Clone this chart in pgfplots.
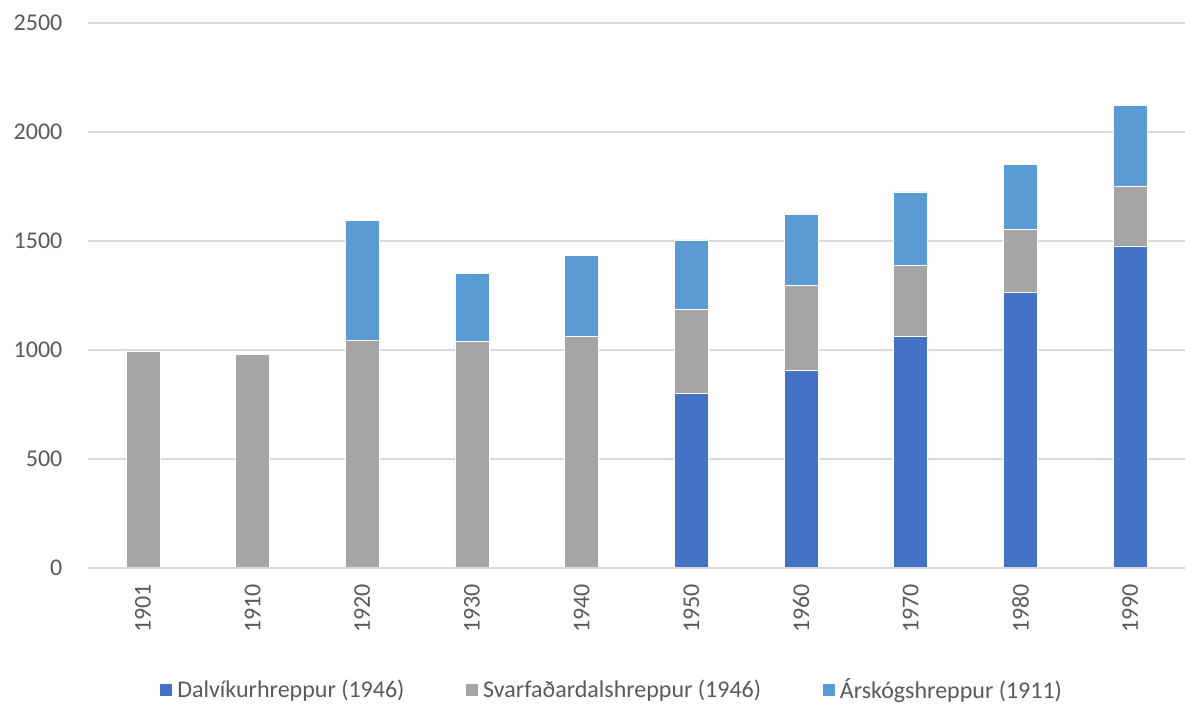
\documentclass[border=0pt]{standalone}
\usepackage{pgfplots}
\pgfplotsset{compat=1.18}
\usepackage{fontspec}
\setmainfont{Carlito}
\definecolor{dalvik}{HTML}{4472C4}
\definecolor{svarf}{HTML}{A5A5A5}
\definecolor{arskog}{HTML}{5B9BD5}
\definecolor{txt}{HTML}{595959}
\definecolor{gridc}{HTML}{D9D9D9}

\begin{document}
\begin{tikzpicture}
\useasboundingbox (0pt,0pt) rectangle (888.75pt,528pt);
\begin{axis}[
    at={(66pt,102pt)}, anchor=south west,
    scale only axis,
    width=822.75pt, height=408.75pt,
    ybar stacked,
    bar width=25.5pt,
    xmin=-0.5, xmax=9.5,
    ymin=0, ymax=2500,
    ytick={0,500,...,2500},
    xtick=data,
    xticklabels={1901,1910,1920,1930,1940,1950,1960,1970,1980,1990},
    major tick length=0pt,
    axis line style={draw=none},
    axis x line*=bottom,
    axis y line*=left,
    ymajorgrids=true,
    grid style={gridc, line width=1pt},
    font=\fontsize{18}{21}\selectfont,
    tick label style={txt},
    /pgf/number format/assume math mode=true,
    /pgf/number format/1000 sep={},
    yticklabel style={anchor=east, inner sep=0pt},
    yticklabel shift=19pt,
    xticklabel style={rotate=90, anchor=east, inner sep=0pt},
    xticklabel shift=12pt,
    legend columns=3,
    legend style={draw=none, fill=none, at={(0.478,-0.223)}, anchor=center,
        text=txt, font=\fontsize{18}{21}\selectfont,
        /tikz/every odd column/.append style={column sep=2pt},
        /tikz/every even column/.append style={column sep=44pt},
        inner sep=0pt},
    legend image code/.code={\fill[#1,draw=none] (0pt,-4.5pt) rectangle (9pt,4.5pt);},
    clip=false,
]
\draw[gridc, line width=1pt] (axis cs:-0.5,0) -- (axis cs:9.5,0);
\addplot[fill=dalvik, draw=white, line width=0.4pt] coordinates {
(0,0) (1,0) (2,0) (3,0) (4,0) (5,801) (6,906) (7,1062) (8,1266) (9,1478)};
\addplot[fill=svarf, draw=white, line width=0.4pt] coordinates {
(0,992) (1,980) (2,1046) (3,1038) (4,1064) (5,386) (6,392) (7,327) (8,289) (9,274)};
\addplot[fill=arskog, draw=white, line width=0.4pt] coordinates {
(0,0) (1,0) (2,550) (3,313) (4,369) (5,318) (6,326) (7,336) (8,295) (9,370)};
\legend{Dalvíkurhreppur (1946), Svarfaðardalshreppur (1946), Árskógshreppur (1911)}
\end{axis}
\end{tikzpicture}
\end{document}
